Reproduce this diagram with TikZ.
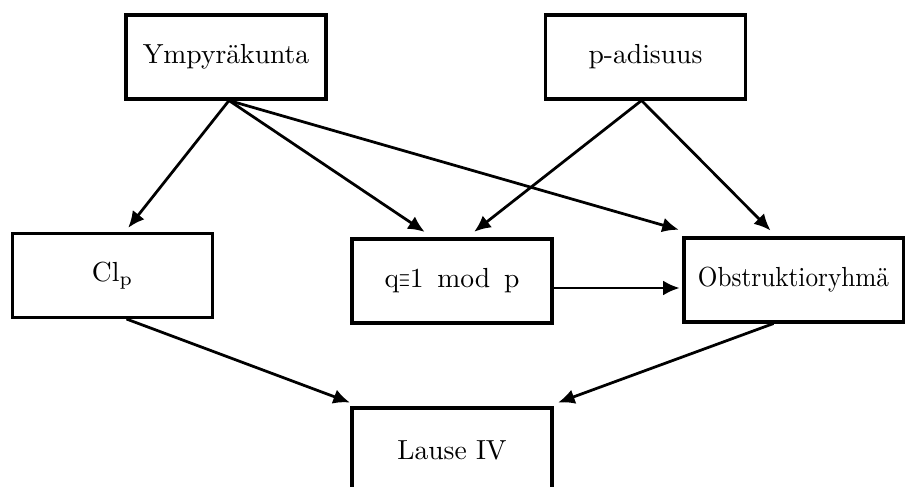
\documentclass[tikz,border=0pt]{standalone}
\usepackage{graphicx}
\usetikzlibrary{arrows.meta,calc}
\tikzset{
  box/.style={draw=black, line width=1.1pt, rectangle, minimum width=72.5pt, minimum height=30.45pt, inner sep=0pt, font=\normalsize},
  arr/.style={draw=black, line width=1pt, -{Latex[length=6pt,width=5.4pt]}, shorten >=1pt}
}
\begin{document}
\begin{tikzpicture}[x=0.3625pt, y=-0.3625pt]
\useasboundingbox (0,0) rectangle (906,486);
\clip (0,0) rectangle (906,486);
\node[box] (ymp) at (226,57) {Ympyräkunta};
\node[box] (pad) at (645.5,57) {p-adisuus};
\node[box] (clp) at (112.5,275.5) {Cl$_{\mathrm{p}}$};
\node[box] (q) at (452,281) {q\scalebox{0.5}[1]{$\equiv$}1\hspace{5pt}mod\hspace{5pt}p};
\node[box, minimum width=79.4pt] (obs) at (793.5,280) {\scalebox{0.915}[1]{Obstruktioryhmä}};
\node[box] (lause) at (452,450) {Lause IV};
\coordinate (ys) at ($(ymp.south)+(3,0)$);
\coordinate (ps) at ($(pad.south)+(-4,0)$);
\draw[arr] (ys) -- ($(clp.north)+(14,-2)$);
\draw[arr] (ys) -- ($(q.north)+(-25,-4)$);
\draw[arr] (ys) -- ($(obs.north west)+(-1,-6)$);
\draw[arr] (ps) -- ($(q.north)+(20,-4)$);
\draw[arr] (ps) -- ($(obs.north)+(-21,-4)$);
\draw[arr] ($(q.east)+(0,7)$) -- ($(obs.west)+(0,8)$);
\draw[arr] ($(clp.south)+(14,0)$) -- ($(lause.north west)+(2,-3)$);
\draw[arr] ($(obs.south)+(-20,0)$) -- ($(lause.north east)+(2,-3)$);
\end{tikzpicture}
\end{document}
